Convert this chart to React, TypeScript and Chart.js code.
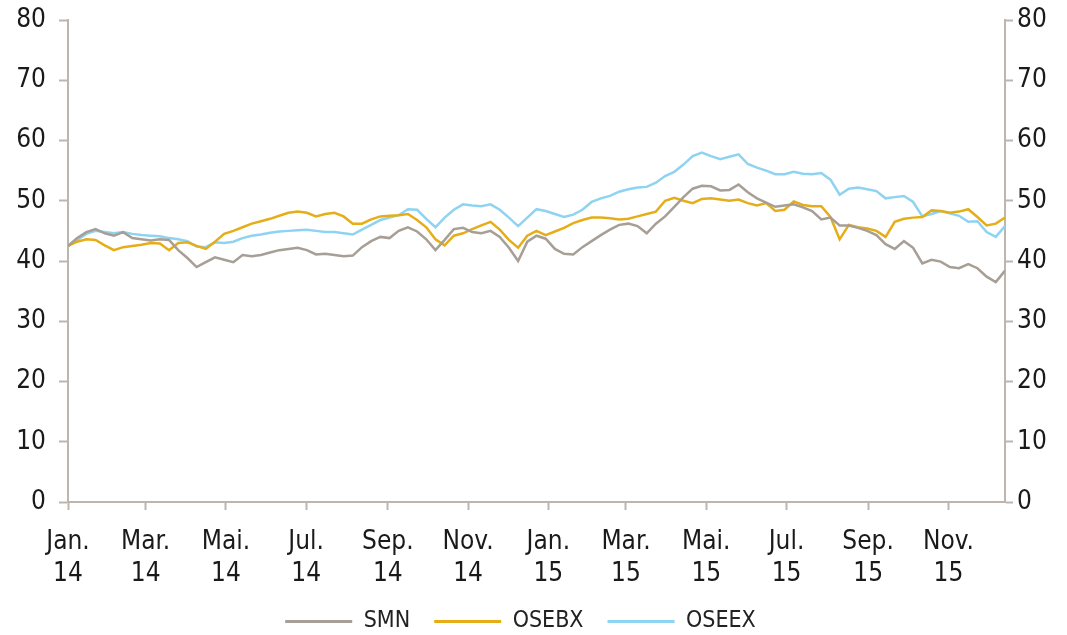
import React, { useEffect, useRef } from "react";
import { Chart, registerables } from "chart.js";

Chart.register(...registerables);

const TICK_LABELS = [
  "Jan. 14", "Mar. 14", "Mai. 14", "Jul. 14", "Sep. 14", "Nov. 14",
  "Jan. 15", "Mar. 15", "Mai. 15", "Jul. 15", "Sep. 15", "Nov. 15",
];
// day offsets from 1 Jan 2014 of each tick month
const TICK_DAYS = [0, 59, 120, 181, 243, 304, 365, 424, 485, 546, 608, 669];
const LAST_DAY = 712; // approx. mid-December 2015

const SMN = [
  42.5, 43.8, 44.8, 45.3, 44.6, 44.2, 44.8, 43.8, 43.6, 43.4,
  43.6, 43.5, 41.8, 40.5, 39.0, 39.8, 40.6, 40.2, 39.8, 41.0,
  40.8, 41.0, 41.4, 41.8, 42.0, 42.2, 41.8, 41.1, 41.2, 41.0,
  40.8, 40.9, 42.3, 43.3, 44.0, 43.8, 45.0, 45.6, 44.9, 43.6,
  41.8, 43.5, 45.3, 45.5, 44.8, 44.6, 45.0, 44.0, 42.2, 40.0,
  43.2, 44.2, 43.7, 42.0, 41.2, 41.1, 42.3, 43.3, 44.3, 45.2,
  46.0, 46.2, 45.8, 44.6, 46.2, 47.4, 49.0, 50.6, 52.0, 52.5,
  52.4, 51.7, 51.8, 52.7, 51.4, 50.4, 49.7, 49.0, 49.2, 49.4,
  48.9, 48.3, 46.9, 47.2, 45.9, 45.9, 45.5, 45.0, 44.3, 42.8,
  42.0, 43.3, 42.2, 39.6, 40.2, 39.9, 39.0, 38.8, 39.5, 38.8,
  37.4, 36.5, 38.4,
];

const OSEBX = [
  42.5, 43.2, 43.6, 43.5, 42.6, 41.8, 42.3, 42.5, 42.7, 43.0,
  42.9, 41.8, 43.0, 43.1, 42.5, 42.0, 43.2, 44.5, 45.0, 45.6,
  46.2, 46.6, 47.0, 47.5, 48.0, 48.2, 48.0, 47.4, 47.8, 48.0,
  47.4, 46.2, 46.2, 46.9, 47.4, 47.5, 47.6, 47.8, 46.8, 45.6,
  43.6, 42.6, 44.2, 44.6, 45.3, 45.9, 46.5, 45.2, 43.5, 42.2,
  44.2, 45.0, 44.3, 44.9, 45.5, 46.3, 46.8, 47.2, 47.2, 47.1,
  46.9, 47.0, 47.4, 47.8, 48.2, 50.0, 50.5, 50.0, 49.6, 50.3,
  50.4, 50.2, 50.0, 50.2, 49.6, 49.2, 49.6, 48.3, 48.5, 49.9,
  49.3, 49.1, 49.1, 47.3, 43.6, 46.0, 45.6, 45.4, 45.0, 44.0,
  46.5, 47.0, 47.2, 47.3, 48.4, 48.3, 48.0, 48.2, 48.6, 47.3,
  45.9, 46.2, 47.2,
];

const OSEEX = [
  42.5, 43.5, 44.5, 45.0, 44.8, 44.6, 44.8, 44.5, 44.3, 44.2,
  44.1, 43.8, 43.6, 43.3, 42.4, 42.3, 43.1, 43.0, 43.2, 43.8,
  44.2, 44.4, 44.7, 44.9, 45.0, 45.1, 45.2, 45.0, 44.8, 44.8,
  44.6, 44.4, 45.2, 46.0, 46.8, 47.2, 47.6, 48.6, 48.5, 47.0,
  45.6, 47.2, 48.5, 49.4, 49.2, 49.1, 49.4, 48.5, 47.2, 45.8,
  47.2, 48.6, 48.3, 47.8, 47.3, 47.7, 48.5, 49.8, 50.4, 50.8,
  51.5, 51.9, 52.2, 52.3, 53.0, 54.1, 54.8, 56.0, 57.4, 58.0,
  57.4, 56.9, 57.3, 57.7, 56.1, 55.5, 55.0, 54.4, 54.4, 54.8,
  54.5, 54.4, 54.6, 53.5, 51.0, 52.0, 52.2, 51.9, 51.6, 50.4,
  50.6, 50.8, 49.8, 47.4, 47.8, 48.3, 47.9, 47.5, 46.5, 46.6,
  44.8, 44.0, 45.8,
];

const SERIES_NAMES = ["SMN", "OSEBX", "OSEEX"];
const SERIES_COLORS = ["#A79E96", "#E5AE19", "#8ED3F2"];
const Y_TICKS = [0, 10, 20, 30, 40, 50, 60, 70, 80];

const AXIS_COLOR = "#BDB5AE";
const FONT = "'DejaVu Sans Condensed', 'DejaVu Sans', sans-serif";

function toPoints(values: number[]) {
  const n = values.length;
  return values.map((v, i) => ({ x: (i * LAST_DAY) / (n - 1), y: v }));
}

const legendShift = {
  id: "legendShift",
  afterLayout(chart: any) {
    const l = chart.legend;
    if (l) {
      l.left -= 17;
      l.right -= 17;
    }
  },
};

export default function App() {
  const ref = useRef<HTMLCanvasElement | null>(null);

  useEffect(() => {
    document.body.style.margin = "0";
    const canvas = ref.current;
    if (!canvas) return;
    const seriesData = [SMN, OSEBX, OSEEX];
    const yAxis = (position: "left" | "right") => ({
      type: "linear" as const,
      position,
      min: 0,
      max: 80,
      afterBuildTicks: (scale: any) => {
        scale.ticks = Y_TICKS.map((v) => ({ value: v }));
      },
      afterFit: (scale: any) => {
        scale.width = position === "left" ? 60 : 62;
        scale.paddingTop = 0;
        scale.paddingBottom = 0;
      },
      grid: {
        drawOnChartArea: false,
        color: AXIS_COLOR,
        tickColor: AXIS_COLOR,
        tickLength: position === "left" ? 9 : 8,
        tickWidth: 2,
      },
      border: { color: AXIS_COLOR, width: 2 },
      ticks: {
        color: "#1a1a1a",
        font: { family: FONT, size: 26 },
        padding: position === "left" ? 13 : 4,
      },
    });

    const chart = new Chart(canvas, {
      type: "line",
      data: {
        datasets: seriesData.map((vals, k) => ({
          label: SERIES_NAMES[k],
          data: toPoints(vals),
          borderColor: SERIES_COLORS[k],
          backgroundColor: SERIES_COLORS[k],
          borderWidth: 2.5,
          pointRadius: 0,
          tension: 0,
          yAxisID: "y",
        })),
      },
      options: {
        animation: false,
        responsive: false,
        maintainAspectRatio: false,
        layout: { padding: { left: 8, right: 0, top: 20, bottom: -8 } },
        plugins: {
          tooltip: { enabled: false },
          legend: {
            position: "bottom",
            labels: {
              color: "#222",
              font: { family: FONT, size: 23 },
              boxWidth: 67,
              boxHeight: 3,
              padding: 24,
              generateLabels: (ch: any) =>
                (Chart.defaults.plugins.legend.labels.generateLabels as any)(ch).map(
                  (it: any) => ({ ...it, lineWidth: 0 })
                ),
            },
          },
        },
        scales: {
          x: {
            type: "linear",
            min: 0,
            max: LAST_DAY,
            afterBuildTicks: (scale: any) => {
              scale.ticks = TICK_DAYS.map((v) => ({ value: v }));
            },
            afterFit: (scale: any) => {
              scale.height = 84;
            },
            grid: {
              drawOnChartArea: false,
              color: AXIS_COLOR,
              tickColor: AXIS_COLOR,
              tickLength: 8,
              tickWidth: 2,
            },
            border: { color: AXIS_COLOR, width: 2 },
            ticks: {
              autoSkip: false,
              maxRotation: 0,
              color: "#1a1a1a",
              font: { family: FONT, size: 26, lineHeight: 1.23 },
              padding: 16,
              callback: (_v: any, i: number) => TICK_LABELS[i].split(" "),
            },
          },
          y: yAxis("left"),
          y2: yAxis("right"),
        } as any,
      },
      plugins: [legendShift],
    });
    return () => chart.destroy();
  }, []);

  return (
    <div style={{ width: 1067, height: 635 }}>
      <canvas ref={ref} width={1067} height={635} style={{ display: "block" }} />
    </div>
  );
}
